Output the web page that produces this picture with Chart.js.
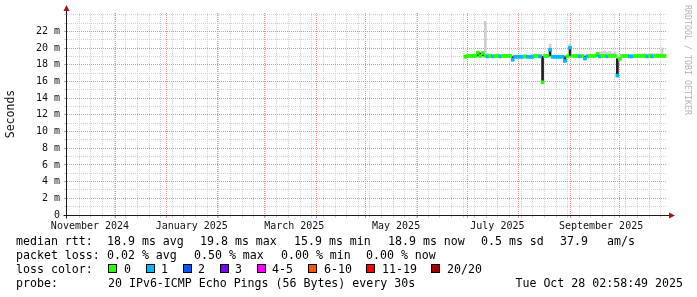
<!DOCTYPE html>
<html>
<head>
<meta charset="utf-8">
<script src="https://cdn.jsdelivr.net/npm/chart.js@4.4.1/dist/chart.umd.min.js"></script>
<style>
  html, body { margin: 0; padding: 0; background: #fff; }
  #wrap { position: relative; width: 697px; height: 297px; overflow: hidden; }
  #wrap canvas { position: absolute; left: 0; top: 0; }
  .txt { position: absolute; font-family: 'DejaVu Sans Mono', monospace; font-size: 11.6px; line-height: 14px; color: #000; white-space: pre; }
  .box { position: absolute; width: 7px; height: 7px; border: 1px solid #000; }
  #mark { position: absolute; left: 693px; top: 5px; transform-origin: 0 0; transform: rotate(90deg);
          font-family: 'DejaVu Sans Mono', monospace; font-size: 8.3px; line-height: 10px; color: #b4b4b4; white-space: pre; }
</style>
</head>
<body>
<div id="wrap">
  <canvas id="c" width="697" height="297"></canvas>
  <div id="legend"></div>
  <div id="mark">RRDTOOL / TOBI OETIKER</div>
</div>
<script>
// x = days since 1 Nov 2024 00:00, samples every 1.5 days starting 28 Jun 2025
const firstSampleDay = 240.9;
const sampleStep = 1.5;

// median rtt in ms
const median = [
  18.95, 19.05, 19.05, 19.05, 19.05, 19.45, 19.05, 19.4, 19.05, 19.0,
  19.05, 19.0, 19.05, 19.05, 19.0, 19.05, 19.05, 19.05, 19.05, 18.6,
  18.95, 18.95, 18.95, 18.95, 19.0, 18.95, 18.95, 18.95, 19.05, 19.05,
  19.0, 15.9, 19.05, 19.05, 19.8, 18.95, 18.95, 18.95, 18.95, 18.95,
  18.45, 19.0, 20.05, 19.05, 19.05, 19.05, 19.0, 19.05, 18.75, 19.0,
  19.05, 19.05, 19.05, 19.3, 19.0, 19.05, 19.05, 19.0, 19.05, 19.05,
  19.05, 16.7, 18.7, 19.05, 19.05, 19.05, 19.0, 19.0, 19.05, 19.05,
  19.05, 19.05, 19.05, 19.0, 19.05, 19.0, 19.05, 19.05, 19.05, 19.05,
  19.05
];
// lost pings out of 20
const lossCount = [
  0, 0, 0, 0, 0, 0, 0, 0, 0, 1,
  0, 1, 0, 0, 1, 0, 0, 0, 0, 1,
  1, 1, 1, 1, 0, 1, 1, 1, 0, 0,
  1, 0, 0, 0, 1, 1, 1, 1, 1, 1,
  1, 0, 1, 0, 0, 0, 1, 0, 1, 1,
  0, 0, 0, 0, 1, 0, 0, 1, 0, 0,
  0, 1, 0, 0, 0, 0, 1, 1, 0, 0,
  0, 0, 0, 1, 0, 1, 0, 0, 0, 0,
  0
];
// top of the smoke (slowest pings) in ms
const smokeTop = [
  19.15, 19.25, 19.2, 19.3, 19.25, 19.55, 19.3, 19.5, 23.2, 19.35,
  19.3, 19.25, 19.2, 19.3, 19.2, 19.15, 19.2, 19.2, 19.25, 19.15,
  19.1, 19.15, 19.1, 19.15, 19.2, 19.1, 19.15, 19.25, 19.3, 19.25,
  19.2, 19.2, 19.2, 19.25, 20.5, 19.1, 19.1, 19.1, 19.15, 19.1,
  19.1, 19.2, 20.5, 19.2, 19.2, 19.25, 19.2, 19.25, 19.15, 19.2,
  19.25, 19.3, 19.25, 19.4, 19.5, 19.6, 19.65, 19.5, 19.6, 19.4,
  19.5, 19.2, 19.2, 19.2, 19.25, 19.2, 19.15, 19.2, 19.25, 19.25,
  19.3, 19.3, 19.35, 19.3, 19.3, 19.35, 19.3, 19.35, 19.3, 20.0,
  19.3
];

const lossLegend = ['0', '1', '2', '3', '4-5', '6-10', '11-19', '20/20'];
const lossColors = ['#26ff00', '#00b8ff', '#0059ff', '#7e00ff', '#ff00ff', '#ff5500', '#ff0000', '#a00000'];

const monthStartDays = [30, 61, 92, 120, 151, 181, 212, 242, 273, 304, 334];
const monthLabels = ['November 2024', 'January 2025', 'March 2025', 'May 2025', 'July 2025', 'September 2025'];
const monthLabelDays = [14.95, 76.2, 137.9, 199.2, 260.2, 322.6];
const firstWeekDay = 8.5;
const yLabelTicks = [0, 2, 4, 6, 8, 10, 12, 14, 16, 18, 20, 22];

const rttStats = ['median rtt:', '18.9 ms avg', '19.8 ms max', '15.9 ms min', '18.9 ms now', '0.5 ms sd', '37.9', 'am/s'];
const lossStats = ['packet loss:', '0.02 % avg', '0.50 % max', '0.00 % min', '0.00 % now'];

const xMin = 1.1, xMax = 362.3;
const days = median.map((_, i) => firstSampleDay + i * sampleStep);

function lossIndex(n) {
  if (n <= 3) return n;
  if (n <= 5) return 4;
  if (n <= 10) return 5;
  if (n <= 19) return 6;
  return 7;
}

const smokeData = [];
days.forEach((d, i) => { if (smokeTop[i] > median[i]) smokeData.push({x: d, y: [median[i], smokeTop[i]]}); });

// dark median trace: vertical run from each sample to the local median of its neighbours
const darkData = days.map((d, i) => {
  const prev = i > 0 ? median[i - 1] : median[i];
  const next = i < median.length - 1 ? median[i + 1] : median[i];
  const mid = [prev, median[i], next].sort((a, b) => a - b)[1];
  return {x: d, y: [Math.min(median[i], mid), Math.max(median[i], mid) + 0.01]};
});

const bandData = days.map((d, i) => ({x: d, y: [median[i] - 0.18, median[i] + 0.18]}));

// x ticks: weekly minor grid, monthly major grid, label positions
const xKind = new Map();
for (let d = firstWeekDay; d < xMax; d += 7) xKind.set(d, 'week');
monthStartDays.forEach(d => xKind.set(d, 'month'));
monthLabelDays.forEach((d, i) => xKind.set(d, 'label' + i));

const minorGrid = '#d2d2d2';
const majorGrid = '#ee8f8f';
const mono = 'DejaVu Sans Mono';

const axisArrows = {
  id: 'axisArrows',
  afterDraw(chart) {
    const {ctx, chartArea: a} = chart;
    const x0 = Math.round(a.left) - 0.5;
    const y0 = Math.round(a.bottom) + 0.5;
    ctx.save();
    ctx.strokeStyle = '#1a1a1a';
    ctx.lineWidth = 1;
    ctx.beginPath();
    ctx.moveTo(x0, y0 + 3); ctx.lineTo(x0, a.top - 4);
    ctx.moveTo(x0 - 3, y0); ctx.lineTo(a.right + 4, y0);
    ctx.stroke();
    ctx.fillStyle = '#a01515';
    ctx.beginPath();
    ctx.moveTo(x0, a.top - 8); ctx.lineTo(x0 - 3, a.top - 2); ctx.lineTo(x0 + 3, a.top - 2);
    ctx.fill();
    ctx.beginPath();
    ctx.moveTo(a.right + 8, y0); ctx.lineTo(a.right + 2, y0 - 3); ctx.lineTo(a.right + 2, y0 + 3);
    ctx.fill();
    ctx.restore();
  }
};

const barCommon = {stack: 'all', barPercentage: 1, categoryPercentage: 1};

new Chart(document.getElementById('c'), {
  type: 'bar',
  data: {
    datasets: [
      {...barCommon, label: 'smoke', data: smokeData, backgroundColor: '#cfcfcf', barThickness: 2, order: 3},
      {...barCommon, label: 'median', data: darkData, backgroundColor: '#202020', barThickness: 2, order: 2},
      {
        ...barCommon, label: 'loss', data: bandData, barThickness: 3, order: 1,
        backgroundColor: ctx => lossColors[lossIndex(lossCount[ctx.dataIndex] || 0)]
      }
    ]
  },
  options: {
    responsive: false,
    animation: false,
    events: [],
    layout: {padding: {top: 13, right: 30, bottom: 0, left: 0}},
    plugins: {legend: {display: false}, tooltip: {enabled: false}},
    scales: {
      x: {
        type: 'linear', min: xMin, max: xMax, offset: false,
        afterFit: s => { s.height = 82; },
        afterBuildTicks: s => {
          s.ticks = [...xKind.keys()].sort((a, b) => a - b).map(v => ({value: v}));
        },
        grid: {
          offset: false, drawTicks: true, tickLength: 3,
          color: c => c.tick && xKind.get(c.tick.value) === 'month' ? majorGrid : minorGrid,
          lineWidth: c => c.tick && String(xKind.get(c.tick.value)).startsWith('label') ? 0 : 1
        },
        border: {display: false, dash: [1, 1]},
        ticks: {
          autoSkip: false, maxRotation: 0, minRotation: 0, padding: 2,
          color: '#111', font: {family: mono, size: 10},
          callback: v => {
            const k = String(xKind.get(v));
            return k.startsWith('label') ? monthLabels[+k.slice(5)] : '';
          }
        }
      },
      y: {
        min: 0, max: 24.2, stacked: false,
        afterFit: s => { s.width = 67; },
        afterBuildTicks: s => {
          const t = [];
          for (let v = 0; v <= 24; v++) t.push({value: v});
          s.ticks = t;
        },
        grid: {
          drawTicks: true, tickLength: 3,
          color: c => c.tick && yLabelTicks.includes(c.tick.value) ? majorGrid : minorGrid
        },
        border: {display: false, dash: [1, 1]},
        title: {display: true, text: 'Seconds', color: '#111', font: {family: mono, size: 11.5}, padding: {top: 4, bottom: 0}},
        ticks: {
          autoSkip: false, padding: 4, color: '#111', font: {family: mono, size: 10},
          callback: v => yLabelTicks.includes(v) ? (v === 0 ? '0' : v + ' m') : ''
        }
      }
    }
  },
  plugins: [axisArrows]
});

// legend block under the graph
const legend = document.getElementById('legend');
function put(text, x, cy) {
  const el = document.createElement('div');
  el.className = 'txt';
  el.textContent = text;
  el.style.left = x + 'px';
  el.style.top = (cy - 7) + 'px';
  legend.appendChild(el);
  return el;
}
[16, 107, 200, 294, 388, 481, 560, 607].forEach((x, i) => put(rttStats[i], x, 241));
[16, 107, 194, 281, 366].forEach((x, i) => put(lossStats[i], x, 255));
put('loss color:', 16, 269);
const boxX = [108, 146, 183, 220, 257, 308, 366, 431];
const boxTextX = [124, 161, 198, 235, 272, 324, 382, 447];
lossLegend.forEach((t, i) => {
  const b = document.createElement('div');
  b.className = 'box';
  b.style.left = boxX[i] + 'px';
  b.style.top = '264px';
  b.style.background = lossColors[i];
  legend.appendChild(b);
  put(t, boxTextX[i], 269);
});
put('probe:', 16, 283);
put('20 IPv6-ICMP Echo Pings (56 Bytes) every 30s', 108, 283);
const dateEl = put('Tue Oct 28 02:58:49 2025', 0, 283);
dateEl.style.left = '';
dateEl.style.right = (697 - 683) + 'px';
</script>
</body>
</html>
